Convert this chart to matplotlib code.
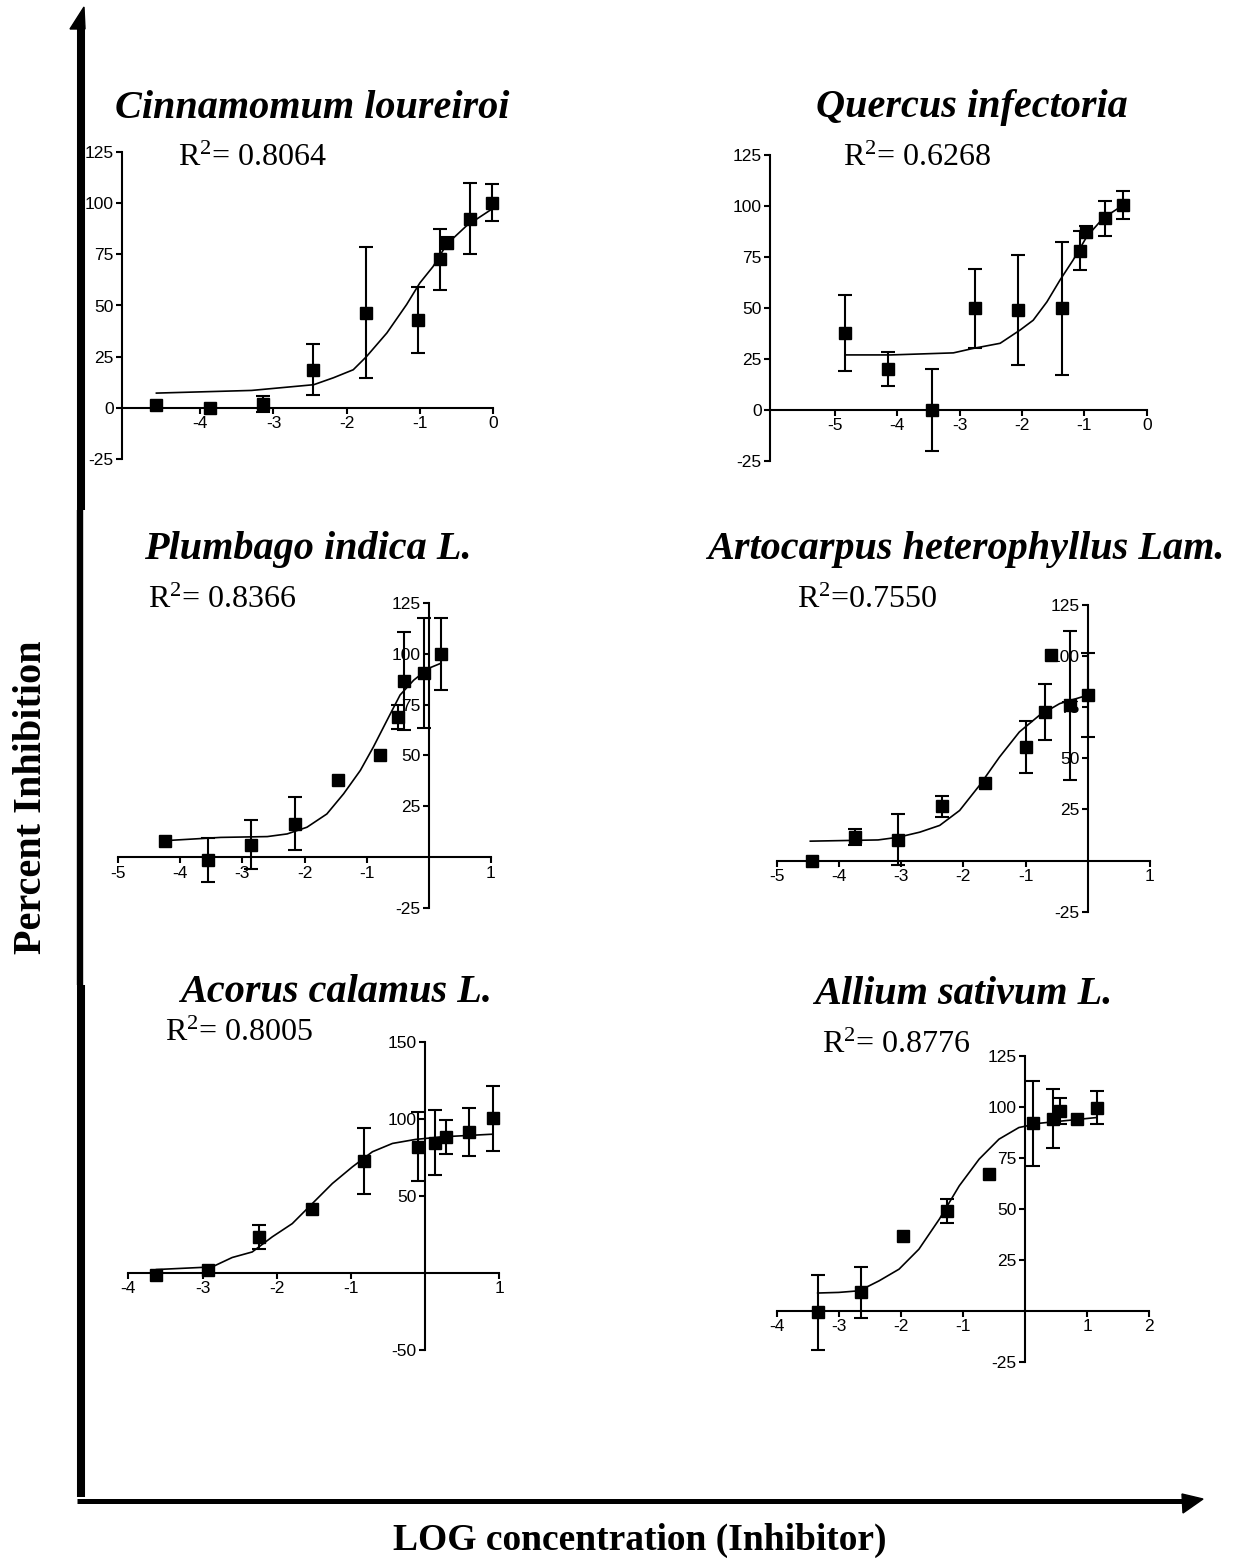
import numpy as np
import matplotlib
matplotlib.use('Agg')
import matplotlib.pyplot as plt
from matplotlib.patches import Polygon

# Cinnamomum loureiroi
cin_x = [-4.60, -3.87, -3.14, -2.46, -1.74, -1.02, -0.73, -0.63, -0.32, -0.02]
cin_y = [1.5, 0.0, 2.0, 18.6, 46.4, 43.0, 72.5, 80.7, 92.5, 100.3]
cin_err = [0, 0, 4, 12.5, 32, 16, 15, 3, 17.5, 9]
cin_fit_x = [-4.60, -3.30, -2.45, -2.18, -1.91, -1.73, -1.45, -1.18, -1.00, -0.82, -0.63, -0.36, -0.02]
cin_fit_y = [7.2, 8.5, 11.3, 14.7, 18.6, 25.0, 36.6, 50.5, 61.0, 69.0, 80.0, 89.0, 97.0]

# Quercus infectoria
que_x = [-4.84, -4.15, -3.45, -2.76, -2.06, -1.36, -1.07, -0.97, -0.67, -0.375]
que_y = [37.9, 20.0, 0.0, 49.8, 49.0, 49.8, 78.0, 87.4, 94.0, 100.5]
que_err = [18.6, 8.3, 20.0, 19.5, 27.0, 32.5, 9.6, 3.0, 8.5, 7.0]
que_fit_x = [-4.84, -4.10, -3.10, -2.78, -2.35, -2.03, -1.82, -1.60, -1.39, -1.18, -0.96, -0.70, -0.375]
que_fit_y = [27.0, 27.0, 28.0, 30.2, 32.7, 39.2, 44.0, 53.0, 63.7, 73.5, 85.0, 94.0, 100.5]

# Plumbago indica L.
plu_x = [-4.25, -3.56, -2.86, -2.16, -1.46, -0.78, -0.49, -0.40, -0.08, 0.20]
plu_y = [8.2, -1.3, 6.3, 16.4, 38.1, 50.1, 69.0, 86.5, 90.6, 99.8]
plu_err = [0, 11, 12, 13, 0, 0, 6, 24, 27, 17.8]
plu_fit_x = [-4.25, -3.35, -2.60, -2.28, -1.96, -1.64, -1.37, -1.10, -0.89, -0.67, -0.46, -0.24, 0.0, 0.20]
plu_fit_y = [8.2, 9.8, 10.2, 11.5, 14.8, 21.3, 31.2, 42.7, 54.2, 67.3, 79.7, 87.0, 92.8, 95.3]

# Artocarpus heterophyllus Lam.
art_x = [-4.44, -3.74, -3.05, -2.35, -1.66, -0.99, -0.68, -0.59, -0.29, 0.0]
art_y = [0.0, 11.4, 10.1, 26.5, 38.1, 55.5, 72.7, 100.5, 76.0, 80.9]
art_err = [0, 4, 12.5, 5, 0, 12.6, 13.7, 0, 36.5, 20.5]
art_fit_x = [-4.46, -3.37, -3.05, -2.70, -2.38, -2.06, -1.74, -1.42, -1.10, -0.78, -0.45, 0.0]
art_fit_y = [9.5, 10.1, 11.4, 13.9, 17.2, 24.5, 36.8, 50.6, 62.9, 71.0, 76.8, 80.9]

# Acorus calamus L.
aco_x = [-3.62, -2.92, -2.24, -1.53, -0.82, -0.10, 0.14, 0.28, 0.59, 0.91]
aco_y = [-1.5, 2.2, 23.4, 41.2, 72.7, 81.8, 84.4, 88.3, 91.6, 100.3]
aco_err = [0, 0, 7.6, 0, 21.4, 22.4, 21, 11, 15.5, 21]
aco_fit_x = [-3.62, -2.87, -2.60, -2.33, -2.06, -1.79, -1.52, -1.25, -0.98, -0.71, -0.44, -0.13, 0.23, 0.91]
aco_fit_y = [2.2, 3.9, 10.0, 13.6, 23.4, 32.0, 45.0, 58.0, 68.8, 78.6, 84.0, 86.6, 88.3, 90.0]

# Allium sativum L.
all_x = [-3.34, -2.65, -1.96, -1.25, -0.58, 0.12, 0.45, 0.57, 0.84, 1.15]
all_y = [-0.8, 9.0, 36.5, 49.0, 67.0, 92.0, 94.3, 98.0, 94.3, 99.7]
all_err = [18.5, 12.5, 0, 6, 0, 20.8, 14.4, 6.5, 0, 8.2]
all_fit_x = [-3.34, -3.00, -2.67, -2.35, -2.03, -1.71, -1.38, -1.06, -0.74, -0.42, -0.10, 0.23, 1.15]
all_fit_y = [8.7, 9.0, 9.8, 14.7, 20.4, 30.2, 45.0, 61.3, 74.4, 84.2, 89.9, 92.0, 94.8]

titles = ['Cinnamomum loureiroi', 'Quercus infectoria', 'Plumbago indica L.',
          'Artocarpus heterophyllus Lam.', 'Acorus calamus L.', 'Allium sativum L.']
r2_labels = ['R$^{2}$= 0.8064', 'R$^{2}$= 0.6268', 'R$^{2}$= 0.8366',
             'R$^{2}$=0.7550', 'R$^{2}$= 0.8005', 'R$^{2}$= 0.8776']

xticks_top_left = [-4, -3, -2, -1, 0]
xticks_top_right = [-5, -4, -3, -2, -1, 0]
xticks_mid = [-5, -4, -3, -2, -1, 1]
xticks_bot_left = [-4, -3, -2, -1, 1]
xticks_bot_right = [-4, -3, -2, -1, 1, 2]
yticks_full = [-25, 0, 25, 50, 75, 100, 125]
yticks_cross = [-25, 25, 50, 75, 100, 125]
yticks_acorus = [-50, 50, 100, 150]

W, H = 1243, 1561

plt.rcParams['font.family'] = ['Liberation Sans', 'DejaVu Sans']
plt.rcParams['axes.unicode_minus'] = False
plt.rcParams['mathtext.fontset'] = 'custom'
plt.rcParams['mathtext.rm'] = 'Liberation Serif'
plt.rcParams['mathtext.it'] = 'Liberation Serif:italic'
plt.rcParams['mathtext.bf'] = 'Liberation Serif:bold'


def px_axes(fig, left, top, right, bottom):
    return fig.add_axes([left / W, 1 - bottom / H, (right - left) / W, (bottom - top) / H])


def draw_panel(ax, x, y, err, fx, fy, xlim, ylim, xticks, yticks, cross):
    x = np.array(x)
    y = np.array(y)
    err = np.array(err)
    ax.plot(fx, fy, color='black', lw=1.2, clip_on=False, zorder=2)
    m = err > 0
    ax.errorbar(x[m], y[m], yerr=err[m], fmt='none', ecolor='black',
                elinewidth=1.5, capsize=5, capthick=1.5, clip_on=False, zorder=3)
    ax.plot(x, y, 's', color='black', ms=9, clip_on=False, zorder=4)
    ax.set_xlim(*xlim)
    ax.set_ylim(*ylim)
    ax.set_xticks(xticks)
    ax.set_yticks(yticks)
    ax.spines[['top', 'right']].set_visible(False)
    ax.spines['bottom'].set_position(('data', 0))
    if cross:
        ax.spines['left'].set_position(('data', 0))
    for s in ('left', 'bottom'):
        ax.spines[s].set_linewidth(1.5)
    ax.tick_params(direction='out', length=4.5, width=1.5, labelsize=12.5, pad=1.5)
    ax.patch.set_visible(False)


fig = plt.figure(figsize=(W / 100, H / 100), dpi=100)

# outer frame with arrows
frame = fig.add_axes([0, 0, 1, 1], zorder=0)
frame.set_xlim(0, W)
frame.set_ylim(H, 0)
frame.axis('off')
frame.plot([81, 81], [25, 510], color='black', lw=5.8, solid_capstyle='butt')
frame.plot([80, 80], [510, 985], color='black', lw=4.6, solid_capstyle='butt')
frame.plot([81, 81], [985, 1497], color='black', lw=5.8, solid_capstyle='butt')
frame.plot([77, 1190], [1500.5, 1500.5], color='black', lw=3.6, solid_capstyle='butt')
frame.add_patch(Polygon([(84, 7), (70, 29), (85, 29)], closed=True, color='black'))
frame.add_patch(Polygon([(1182, 1494), (1203, 1499), (1183, 1513)], closed=True, color='black'))

panels = [
    (cin_x, cin_y, cin_err, cin_fit_x, cin_fit_y, (-5.07, 0), (-25, 125),
     xticks_top_left, yticks_full, False, (122, 152, 493, 459)),
    (que_x, que_y, que_err, que_fit_x, que_fit_y, (-6.04, 0), (-25, 125),
     xticks_top_right, yticks_full, False, (770, 155, 1146.7, 461)),
    (plu_x, plu_y, plu_err, plu_fit_x, plu_fit_y, (-5, 1), (-25, 125),
     xticks_mid, yticks_cross, True, (118.3, 602.7, 490.7, 908.3)),
    (art_x, art_y, art_err, art_fit_x, art_fit_y, (-5, 1), (-25, 125),
     xticks_mid, yticks_cross, True, (776.7, 605, 1150, 911.7)),
    (aco_x, aco_y, aco_err, aco_fit_x, aco_fit_y, (-4, 1), (-50, 150),
     xticks_bot_left, yticks_acorus, True, (128.3, 1041.7, 499.3, 1350)),
    (all_x, all_y, all_err, all_fit_x, all_fit_y, (-4, 2), (-25, 125),
     xticks_bot_right, yticks_cross, True, (776.7, 1056, 1149.3, 1361.7)),
]

for p in panels:
    ax = px_axes(fig, *p[10])
    draw_panel(ax, *p[:10])

title_pos = [(312, 108), (972, 108), (308, 550), (966, 550), (336, 993), (963, 995)]
r2_pos = [(178, 158), (843, 158), (148, 600), (797, 600), (165, 1033), (822, 1045)]

for t, (tx, ty) in zip(titles, title_pos):
    fig.text(tx / W, 1 - ty / H, t, ha='center', va='center', fontsize=29,
             family='Liberation Serif', weight='bold', style='italic')
for r, (rx, ry) in zip(r2_labels, r2_pos):
    fig.text(rx / W, 1 - ry / H, r, ha='left', va='center', fontsize=23,
             family='Liberation Serif')

fig.text(32 / W, 1 - 797 / H, 'Percent Inhibition', rotation=90, ha='center', va='center',
         fontsize=29, family='Liberation Serif', weight='bold')
fig.text(640 / W, 1 - 1540 / H, 'LOG concentration (Inhibitor)', ha='center', va='center',
         fontsize=27, family='Liberation Serif', weight='bold')

fig.savefig('out.png', dpi=100)
